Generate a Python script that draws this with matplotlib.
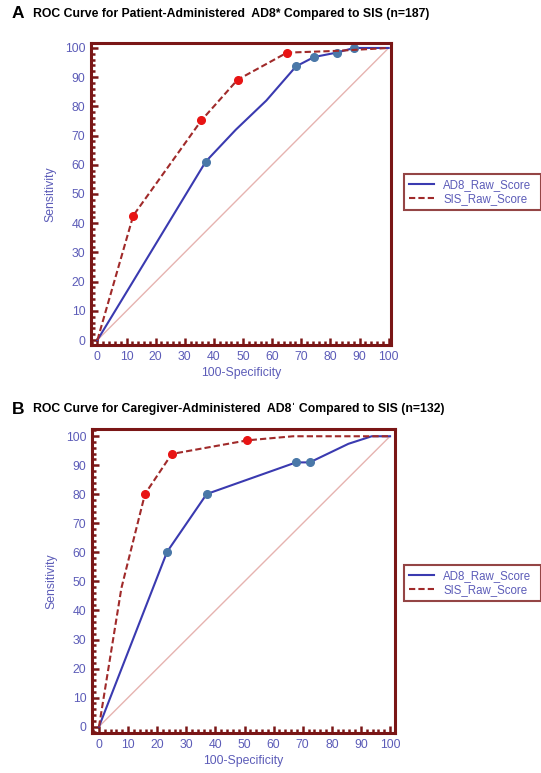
import matplotlib
matplotlib.use("Agg")
import matplotlib.pyplot as plt
from matplotlib.ticker import MultipleLocator

# panel A: patient-administered (n=187)
a_ad8_x = [0, 12.5, 37.2, 47.5, 58, 68.2, 74.4, 82.1, 88.1, 100]
a_ad8_y = [0, 20.5, 61.1, 72, 82, 93.7, 96.9, 98.4, 100, 100]
a_ad8_marks = [2, 5, 6, 7, 8]
a_sis_x = [0, 12.3, 35.7, 48.1, 65.1, 82, 100]
a_sis_y = [0, 42.6, 75.2, 89.1, 98.4, 99, 100]
a_sis_marks = [1, 2, 3, 4]

# panel B: caregiver-administered (n=132)
b_ad8_x = [0, 23.4, 37.0, 67.7, 72.4, 85.7, 93.7, 100]
b_ad8_y = [0, 60.2, 80.1, 91.0, 91.0, 97.4, 100, 100]
b_ad8_marks = [1, 2, 3, 4]
b_sis_x = [0, 7.7, 15.8, 25.0, 51.0, 66.7, 100]
b_sis_y = [0, 47.7, 80.1, 93.9, 98.6, 100, 100]
b_sis_marks = [2, 3, 4]

titles = ["ROC Curve for Patient-Administered  AD8* Compared to SIS (n=187)",
          "ROC Curve for Caregiver-Administered  AD8\u02c8 Compared to SIS (n=132)"]
letters = ["A", "B"]
series_names = ["AD8_Raw_Score", "SIS_Raw_Score"]

plt.rcParams['font.family'] = ['Liberation Sans', 'DejaVu Sans']

W, H = 541, 773
fig = plt.figure(figsize=(W / 100, H / 100), dpi=100)

frame_col = "#7a1616"
tick_col = "#5c5cb8"
blue_line = "#3a3ab0"
blue_mark = "#4a78a8"
red_line = "#a02a2a"
red_mark = "#e81414"
diag_col = "#e6b3b0"

# axes boxes in pixels: left, right, top, bottom
boxes = [(91, 391, 43, 345), (92, 395, 429, 733)]
xlims = [(-2.2, 100.8), (-2.4, 101.7)]
ylims = [(-1.7, 101.7), (-2.2, 102.5)]
title_y = [14, 409]
legend_top = [174, 565]

panels = [
    (a_ad8_x, a_ad8_y, a_ad8_marks, a_sis_x, a_sis_y, a_sis_marks),
    (b_ad8_x, b_ad8_y, b_ad8_marks, b_sis_x, b_sis_y, b_sis_marks),
]

for i, (ax_, ay_, am, sx, sy, sm) in enumerate(panels):
    l, r, t, b = boxes[i]
    ax = fig.add_axes([l / W, 1 - b / H, (r - l) / W, (b - t) / H])
    ax.plot([0, 100], [0, 100], color=diag_col, lw=1.0, zorder=1)
    h1, = ax.plot(ax_, ay_, color=blue_line, lw=1.5, zorder=2,
                  marker='o', markevery=am, markersize=5.5,
                  markerfacecolor=blue_mark, markeredgecolor=blue_mark)
    h2, = ax.plot(sx, sy, color=red_line, lw=1.5, ls=(0, (3, 1.5)), zorder=3,
                  marker='o', markevery=sm, markersize=5.5,
                  markerfacecolor=red_mark, markeredgecolor=red_mark)
    ax.set_xlim(*xlims[i])
    ax.set_ylim(*ylims[i])
    ax.xaxis.set_major_locator(MultipleLocator(10))
    ax.yaxis.set_major_locator(MultipleLocator(10))
    ax.xaxis.set_minor_locator(MultipleLocator(2))
    ax.yaxis.set_minor_locator(MultipleLocator(2))
    ax.tick_params(which='both', direction='in', color=frame_col, width=1.8)
    ax.tick_params(which='major', length=5, labelsize=8.8, labelcolor=tick_col, pad=4)
    ax.tick_params(which='minor', length=3)
    for s in ax.spines.values():
        s.set_color(frame_col)
        s.set_linewidth(2.2)
    ax.set_ylabel("Sensitivity", color=tick_col, fontsize=8.8, labelpad=6)
    ax.set_xlabel("100-Specificity", color=tick_col, fontsize=8.8, labelpad=3)

    leg = fig.legend([h1, h2], series_names, loc='upper left',
                     bbox_to_anchor=(404 / W, 1 - legend_top[i] / H - 0.01, 137 / W, 0.01),
                     mode='expand', borderaxespad=0, fancybox=False,
                     edgecolor=frame_col, fontsize=8.3, handlelength=2.2,
                     labelspacing=0.2, borderpad=0.4, handletextpad=0.8,
                     labelcolor=tick_col)
    leg.get_frame().set_linewidth(1.5)
    for lh in leg.get_lines():
        lh.set_marker('')

    fig.text(12 / W, 1 - title_y[i] / H, letters[i], fontsize=12.5, fontweight='bold',
             va='center', ha='left')
    fig.text(33 / W, 1 - title_y[i] / H, titles[i], fontsize=8.8, fontweight='bold',
             va='center', ha='left')

fig.savefig("out.png", dpi=100)
